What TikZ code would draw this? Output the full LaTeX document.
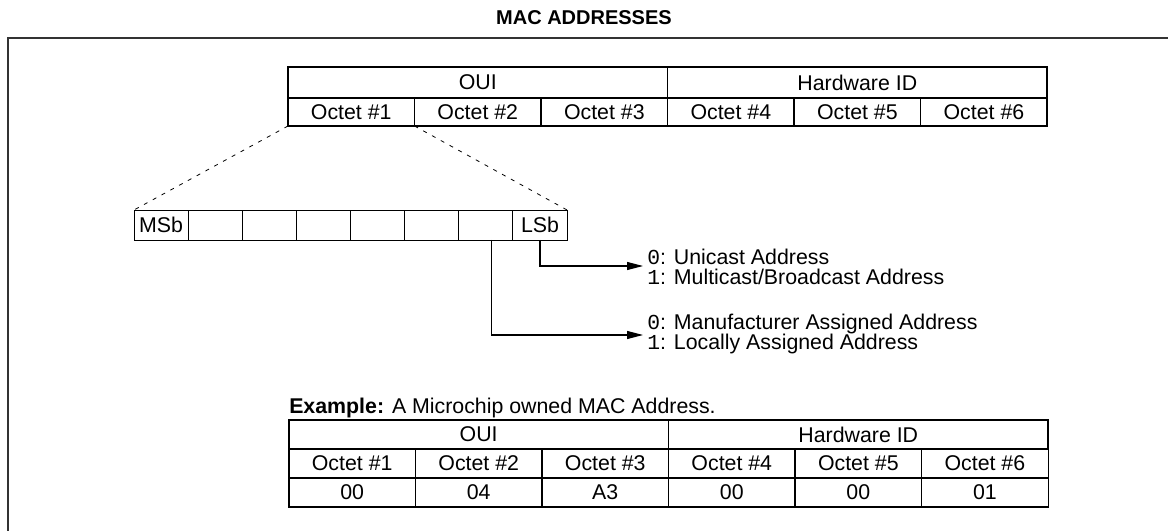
\documentclass[tikz,border=0pt]{standalone}
\usepackage{fontspec}
\setmainfont{Liberation Sans}
\setmonofont{Liberation Mono}
\usetikzlibrary{arrows.meta, positioning, calc}

\begin{document}
\begin{tikzpicture}[
    x=0.75pt, y=-0.75pt,
    node distance=0pt,
    cell/.style={rectangle, draw, line width=1.1pt, inner sep=0pt, outer sep=0pt,
                 minimum width=94.9pt, minimum height=21pt, font=\fontsize{16}{18}\selectfont},
    hdr/.style={cell, minimum width=284.6pt, minimum height=23.25pt},
    excell/.style={cell, line width=0.9pt, minimum height=21.75pt},
    exhdr/.style={excell, minimum width=284.6pt},
    bitcell/.style={rectangle, draw, line width=0.7pt, inner sep=1pt, outer sep=0pt,
                    minimum width=40.6pt, minimum height=22.5pt, font=\fontsize{16}{18}\selectfont},
    arr/.style={-{Triangle[length=12pt, width=6pt]}, line width=0.8pt},
    zoomline/.style={dash pattern=on 3pt off 4.5pt, line width=0.6pt},
    note/.style={anchor=west, align=left, inner sep=0pt, font=\fontsize{16}{15}\selectfont},
]
    \useasboundingbox (0,0) rectangle (1168,531);

    \node[font=\bfseries\fontsize{15}{17}\selectfont] (title) at (584,18) {MAC ADDRESSES};
    \draw[line width=1.5pt, black!80] (1172,38) -| (8,535);

    % address layout
    \node[cell] (o1) at (351.25,112) {Octet \#1};
    \node[cell, right=of o1] (o2) {Octet \#2};
    \node[cell, right=of o2] (o3) {Octet \#3};
    \node[cell, right=of o3] (o4) {Octet \#4};
    \node[cell, right=of o4] (o5) {Octet \#5};
    \node[cell, right=of o5] (o6) {Octet \#6};
    \node[hdr, anchor=south west] (oui) at (o1.north west) {OUI};
    \node[hdr, anchor=south west] (hwid) at (o4.north west) {Hardware ID};

    % bits of octet #1
    \node[bitcell] (b1) at (161.05,225) {MSb};
    \foreach \i [count=\j] in {2,...,7}
        \node[bitcell, right=of b\j] (b\i) {};
    \node[bitcell, right=of b7] (b8) {LSb};

    \draw[zoomline] (o1.south west) -- (b1.north west);
    \draw[zoomline] (o1.south east) -- (b8.north east);

    \node[note] (bcast) at (647,267) {\texttt{0}: Unicast Address\\\texttt{1}: Multicast/Broadcast Address};
    \node[note] (local) at (647,334) {\texttt{0}: Manufacturer Assigned Address\\\texttt{1}: Locally Assigned Address};
    \draw[arr] (b8.south) |- ($(bcast.west)+(-4,-1)$);
    \draw[arr] ([xshift=4.5pt]b7.south) |- ($(local.west)+(-4,1)$);

    % example
    \node[anchor=base west, inner sep=0pt, font=\fontsize{16}{18}\selectfont] (extitle) at (289,413)
        {\textbf{Example:} A Microchip owned MAC Address.};
    \node[excell] (e1) at (352.2,463.5) {Octet \#1};
    \node[excell, right=of e1] (e2) {Octet \#2};
    \node[excell, right=of e2] (e3) {Octet \#3};
    \node[excell, right=of e3] (e4) {Octet \#4};
    \node[excell, right=of e4] (e5) {Octet \#5};
    \node[excell, right=of e5] (e6) {Octet \#6};
    \node[exhdr, anchor=south west] (exoui) at (e1.north west) {OUI};
    \node[exhdr, anchor=south west] (exhwid) at (e4.north west) {Hardware ID};
    \node[excell, below=of e1] (v1) {00};
    \node[excell, below=of e2] (v2) {04};
    \node[excell, below=of e3] (v3) {A3};
    \node[excell, below=of e4] (v4) {00};
    \node[excell, below=of e5] (v5) {00};
    \node[excell, below=of e6] (v6) {01};
\end{tikzpicture}
\end{document}
